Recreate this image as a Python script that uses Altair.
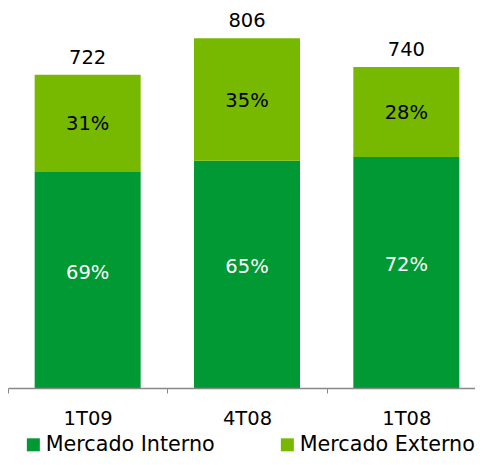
import altair as alt
import pandas as pd

periods = ["1T09", "4T08", "1T08"]
totals = [722, 806, 740]
interno_pct = [69, 65, 72]
externo_pct = [31, 35, 28]
series = ["Mercado Interno", "Mercado Externo"]
colors = ["#009933", "#77B800"]

rows = []
for p, t, pi, pe in zip(periods, totals, interno_pct, externo_pct):
    vi = t * pi / 100
    rows.append(dict(period=p, serie=series[0], y0=0, y1=vi, mid=vi / 2, label=f"{pi}%"))
    rows.append(dict(period=p, serie=series[1], y0=vi, y1=t, mid=(vi + t) / 2, label=f"{pe}%"))
df = pd.DataFrame(rows)
tot = pd.DataFrame(dict(period=periods, total=totals))

FONT = "DejaVu Sans"
FS = 19.5
xscale = alt.Scale(paddingInner=0, paddingOuter=0, range=[0, 478])
x = alt.X(
    "period:N", sort=periods, title=None, scale=xscale,
    axis=alt.Axis(labelAngle=0, tickBand="extent", domainColor="#888888", tickColor="#888888",
                  tickSize=5, labelFontSize=FS, labelColor="black", labelPadding=16,
                  labelFont=FONT, zindex=1, domainWidth=1.5),
)
yscale = alt.Scale(domain=[0, 876], nice=False)

bars = alt.Chart(df).mark_bar(size=106).encode(
    x=x,
    y=alt.Y("y0:Q", scale=yscale, axis=None),
    y2="y1:Q",
    color=alt.Color(
        "serie:N",
        scale=alt.Scale(domain=series, range=colors),
        legend=alt.Legend(title=None, orient="none", legendX=15, legendY=426, direction="horizontal",
                          symbolType="square", symbolSize=169, symbolStrokeWidth=0,
                          labelFontSize=20.7, labelFont=FONT, labelColor="black", labelLimit=400,
                          columnPadding=62, labelOffset=2, padding=0),
    ),
)

xt = alt.X("period:N", sort=periods, scale=xscale)

lab_int = alt.Chart(df[df.serie == series[0]]).mark_text(
    fontSize=FS, font=FONT, color="white", baseline="middle", dy=-7
).encode(x=xt, y=alt.Y("mid:Q", scale=yscale), text="label:N")

lab_ext = alt.Chart(df[df.serie == series[1]]).mark_text(
    fontSize=FS, font=FONT, color="black", baseline="middle", dy=1
).encode(x=xt, y=alt.Y("mid:Q", scale=yscale), text="label:N")

lab_tot = alt.Chart(tot).mark_text(
    fontSize=FS, font=FONT, color="black", baseline="middle", dy=-17
).encode(x=xt, y=alt.Y("total:Q", scale=yscale), text="total:Q")

chart = alt.layer(bars, lab_int, lab_ext, lab_tot).properties(
    width=467, height=380,
    autosize=alt.AutoSizeParams(type="none"),
    padding={"left": 0, "top": 0, "right": 0, "bottom": 69},
).configure_view(stroke=None)

chart.save("out.html", embed_options={"renderer": "svg", "actions": False})
